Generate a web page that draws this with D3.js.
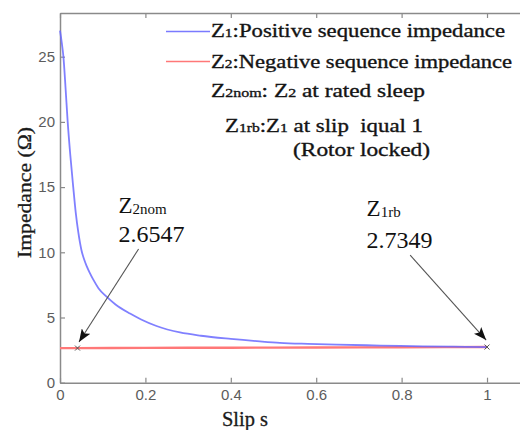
<!DOCTYPE html>
<html>
<head>
<meta charset="utf-8">
<script src="https://cdn.jsdelivr.net/npm/d3@7"></script>
<style>
  body { margin: 0; background: #fff; }
  svg { display: block; }
  .serif { font-family: "Liberation Serif", "Times New Roman", "DejaVu Serif", serif; }
</style>
</head>
<body>
<svg width="520" height="430"></svg>
<script>
// values
const slipZ1 = [0, 0.004, 0.008, 0.013, 0.018, 0.024, 0.031, 0.037, 0.043, 0.05, 0.056,
  0.063, 0.07, 0.078, 0.09, 0.109, 0.13, 0.164, 0.19, 0.226, 0.281, 0.33, 0.4, 0.468,
  0.515, 0.58, 0.648, 0.75, 0.85, 0.95, 1.0];
const z1 = [27.0, 26.1, 25.0, 22.6, 20.0, 17.5, 15.0, 13.0, 11.5, 10.2, 9.5,
  8.9, 8.4, 7.9, 7.25, 6.6, 6.0, 5.3, 4.85, 4.35, 3.85, 3.6, 3.36, 3.17,
  3.06, 2.98, 2.92, 2.85, 2.79, 2.75, 2.7349];
const slipZ2 = [0, 0.041, 0.2, 0.4, 0.6, 0.8, 1.0];
const z2 = [2.651, 2.6547, 2.668, 2.684, 2.7, 2.717, 2.7349];

const xTicks = [0, 0.2, 0.4, 0.6, 0.8, 1];
const yTicks = [0, 5, 10, 15, 20, 25];

const points = [
  { name: "2nom", s: 0.041, z: 2.6547 },
  { name: "1rb", s: 1.0, z: 2.7349 }
];

var svg = d3.select("svg");

var x = d3.scaleLinear().domain([0, 1.0796]).range([60, 521]);
var y = d3.scaleLinear().domain([0, 28.35]).range([382.7, 13]);

// axes, MATLAB style ticks pointing inwards
function styleAxis(g) {
  g.select(".domain").attr("stroke", "#8a8a8a").attr("stroke-width", 1.5);
  g.selectAll(".tick line").attr("stroke", "#8a8a8a").attr("stroke-width", 1.2);
  g.selectAll(".tick text")
    .attr("fill", "#5c5c5c")
    .attr("font-family", "Liberation Sans, Arial, sans-serif")
    .attr("font-size", 15);
}

svg.append("g")
  .attr("transform", "translate(0," + y(0) + ")")
  .call(d3.axisBottom(x).tickValues(xTicks).tickSize(-5).tickSizeOuter(0)
    .tickPadding(7).tickFormat(d3.format("~g")))
  .call(styleAxis);

svg.append("g")
  .attr("transform", "translate(0," + y.range()[1] + ")")
  .call(d3.axisTop(x).tickValues(xTicks).tickSize(-5).tickSizeOuter(0).tickFormat(""))
  .call(styleAxis);

svg.append("g")
  .attr("transform", "translate(" + x(0) + ",0)")
  .call(d3.axisLeft(y).tickValues(yTicks).tickSize(-5).tickSizeOuter(0).tickPadding(5))
  .call(styleAxis);

// curves
var line = d3.line()
  .x(function (d) { return x(d[0]); })
  .y(function (d) { return y(d[1]); })
  .curve(d3.curveMonotoneX);

svg.append("path")
  .datum(d3.zip(slipZ2, z2))
  .attr("d", line)
  .attr("fill", "none")
  .attr("stroke", "#ff7878")
  .attr("stroke-width", 2.4);

svg.append("path")
  .datum(d3.zip(slipZ1, z1))
  .attr("d", line)
  .attr("fill", "none")
  .attr("stroke", "#6a6aff")
  .attr("stroke-width", 1.8)
  .attr("stroke-opacity", 0.85);

// x markers
svg.selectAll(".mk")
  .data(points)
  .enter()
  .append("path")
  .attr("class", "mk")
  .attr("d", function (d) {
    var cx = x(d.s), cy = y(d.z), r = 2.5;
    return "M" + (cx - r) + "," + (cy - r) + "L" + (cx + r) + "," + (cy + r) +
      "M" + (cx - r) + "," + (cy + r) + "L" + (cx + r) + "," + (cy - r);
  })
  .attr("stroke", "#555")
  .attr("stroke-width", 1);

// annotation arrows
svg.append("defs").append("marker")
  .attr("id", "head")
  .attr("markerUnits", "userSpaceOnUse")
  .attr("viewBox", "0 -5 13 10")
  .attr("refX", 13)
  .attr("refY", 0)
  .attr("markerWidth", 13)
  .attr("markerHeight", 10)
  .attr("orient", "auto")
  .append("path")
  .attr("d", "M0,-5L13,0L0,5L3,0Z")
  .attr("fill", "#111");

const arrowFrom = [[0.184, 10.25], [0.82, 9.79]];
const arrowTo = [[0.0445, 3.12], [0.998, 3.27]];

svg.selectAll(".arrow")
  .data(d3.zip(arrowFrom, arrowTo))
  .enter()
  .append("line")
  .attr("class", "arrow")
  .attr("x1", function (d) { return x(d[0][0]); })
  .attr("y1", function (d) { return y(d[0][1]); })
  .attr("x2", function (d) { return x(d[1][0]); })
  .attr("y2", function (d) { return y(d[1][1]); })
  .attr("stroke", "#555")
  .attr("stroke-width", 1.1)
  .attr("marker-end", "url(#head)");

// annotation labels: name line and value line
const labelAt = [[0.137, 13.0, 10.8], [0.718, 12.75, 10.33]];

points.forEach(function (p, i) {
  var lx = x(labelAt[i][0]);
  var t = svg.append("text")
    .attr("class", "serif")
    .attr("x", lx)
    .attr("y", y(labelAt[i][1]))
    .attr("font-size", 23)
    .attr("fill", "#111");
  t.append("tspan").text("Z");
  t.append("tspan").attr("font-size", 15).attr("dy", 1).text(p.name);
  svg.append("text")
    .attr("class", "serif")
    .attr("x", lx)
    .attr("y", y(labelAt[i][2]))
    .attr("textLength", 66)
    .attr("lengthAdjust", "spacingAndGlyphs")
    .attr("font-size", 23)
    .attr("fill", "#111")
    .text(p.z.toFixed(4));
});

// legend and notes
svg.append("line").attr("x1", 166).attr("x2", 210).attr("y1", 31.5).attr("y2", 31.5)
  .attr("stroke", "#7a7aff").attr("stroke-width", 1.6);
svg.append("line").attr("x1", 166).attr("x2", 210).attr("y1", 61.5).attr("y2", 61.5)
  .attr("stroke", "#ff7878").attr("stroke-width", 1.6);

const notes = [
  { x: 211, y: 37, w: 294, parts: [["Z", 0], ["1", 1], [":Positive sequence impedance", 0]] },
  { x: 211, y: 67.5, w: 301, parts: [["Z", 0], ["2", 1], [":Negative sequence impedance", 0]] },
  { x: 211, y: 96.5, w: 214, parts: [["Z", 0], ["2nom", 1], [": Z", 0], ["2", 1], [" at rated sleep", 0]] },
  { x: 225, y: 131.5, w: 198, parts: [["Z", 0], ["1rb", 1], [":Z", 0], ["1", 1], [" at slip\u00a0 iqual 1", 0]] },
  { x: 293, y: 155.5, w: 137, parts: [["(Rotor locked)", 0]] }
];

notes.forEach(function (n) {
  var t = svg.append("text")
    .attr("class", "serif")
    .attr("x", n.x)
    .attr("y", n.y)
    .attr("textLength", n.w)
    .attr("lengthAdjust", "spacingAndGlyphs")
    .attr("font-size", 19)
    .attr("fill", "#141414")
    .attr("stroke", "#141414")
    .attr("stroke-width", 0.35);
  n.parts.forEach(function (p) {
    t.append("tspan")
      .attr("font-size", p[1] ? 13 : 19)
      .text(p[0]);
  });
});

// axis titles
svg.append("text")
  .attr("class", "serif")
  .attr("transform", "translate(31,192.5) rotate(-90)")
  .attr("text-anchor", "middle")
  .attr("textLength", 131)
  .attr("lengthAdjust", "spacingAndGlyphs")
  .attr("font-size", 18)
  .attr("fill", "#1a1a1a")
  .attr("stroke", "#1a1a1a")
  .attr("stroke-width", 0.3)
  .text("Impedance (\u03a9)");

svg.append("text")
  .attr("class", "serif")
  .attr("x", 222)
  .attr("y", 426)
  .attr("textLength", 46)
  .attr("lengthAdjust", "spacingAndGlyphs")
  .attr("font-size", 20)
  .attr("fill", "#1a1a1a")
  .attr("stroke", "#1a1a1a")
  .attr("stroke-width", 0.3)
  .text("Slip s");
</script>
</body>
</html>
